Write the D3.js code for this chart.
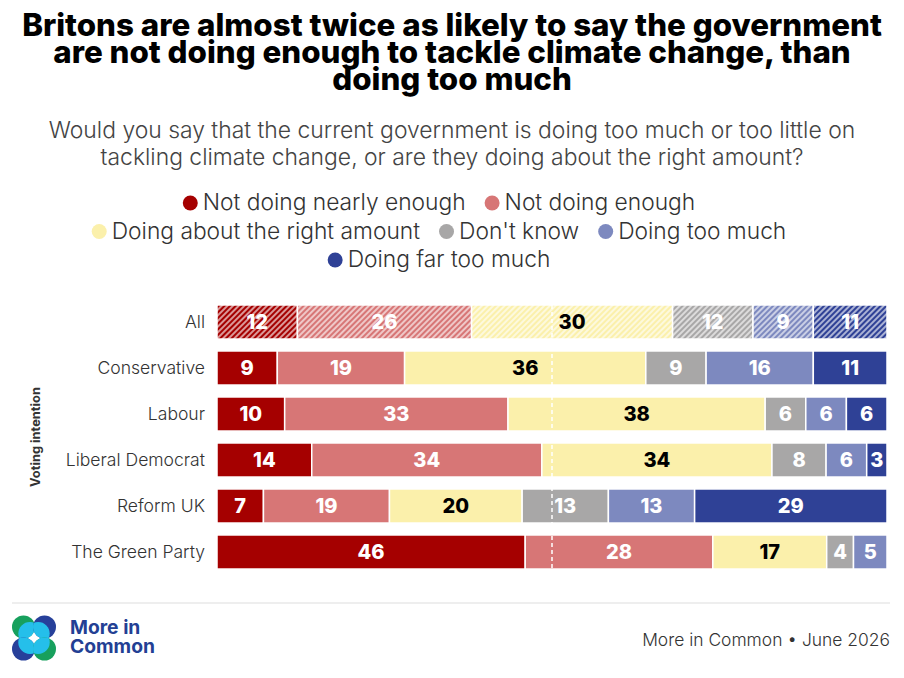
<!DOCTYPE html>
<html>
<head>
<meta charset="utf-8">
<script src="https://cdn.jsdelivr.net/npm/d3@7"></script>
<style>
  body { margin: 0; background: #fff; }
  svg { display: block; font-family: Inter, "Noto Sans", sans-serif; }
</style>
</head>
<body>
<div id="chart"></div>
<script>
'use strict';

// survey data, one array per answer, in group order
const groups = ['All', 'Conservative', 'Labour', 'Liberal Democrat', 'Reform UK', 'The Green Party'];
const categories = ['Not doing nearly enough', 'Not doing enough', 'Doing about the right amount',
                    "Don't know", 'Doing too much', 'Doing far too much'];
const notNearlyEnough = [12, 9, 10, 14, 7, 46];
const notEnough = [26, 19, 33, 34, 19, 28];
const aboutRight = [30, 36, 38, 34, 20, 17];
const dontKnow = [12, 9, 6, 8, 13, 4];
const tooMuch = [9, 16, 6, 6, 13, 5];
const farTooMuch = [11, 11, 6, 3, 29, 0];
const legendRows = [[0, 1], [2, 3, 4], [5]];

const colors = ['#a50000', '#d77676', '#fbf0ab', '#a8a7a7', '#7d89bf', '#2f4196'];

const width = 904,
      height = 678;

const svg = d3.select('#chart')
              .append('svg')
              .attr('width', width)
              .attr('height', height);

// font size that makes a string about as wide as in the reference
function fitSize(str, weight, target) {
    let t = svg.append('text').attr('font-size', 100).attr('font-weight', weight).text(str);
    let w = t.node().getComputedTextLength();
    t.remove();
    return 100 * target / w;
}

const seriesValues = [notNearlyEnough, notEnough, aboutRight, dontKnow, tooMuch, farTooMuch];
const table = groups.map(function(g, i) {
    let row = {group: g};
    categories.forEach(function(c, j) { row[c] = seriesValues[j][i]; });
    return row;
});

const stack = d3.stack().keys(categories).offset(d3.stackOffsetExpand);
const series = stack(table);

const x = d3.scaleLinear().domain([0, 1]).range([217, 887]);
const y = d3.scaleBand().domain(groups).range([299, 575]).paddingInner(0.26).paddingOuter(0.13);

// hatch patterns for the "All" row
const defs = svg.append('defs');
categories.forEach(function(c, j) {
    let p = defs.append('pattern')
                .attr('id', 'hatch-' + j)
                .attr('patternUnits', 'userSpaceOnUse')
                .attr('width', 4)
                .attr('height', 4)
                .attr('patternTransform', 'rotate(45)');
    p.append('rect').attr('width', 4).attr('height', 4).attr('fill', colors[j]);
    p.append('line')
     .attr('x1', 1).attr('x2', 1).attr('y1', 0).attr('y2', 4)
     .attr('stroke', '#fff')
     .attr('stroke-width', 1.4)
     .attr('stroke-opacity', 0.85);
});

// title
const title = ['Britons are almost twice as likely to say the government',
               'are not doing enough to tackle climate change, than',
               'doing too much'];
const titleSize = fitSize(title[0], 800, 860);
svg.append('g')
   .selectAll('text')
   .data(title)
   .join('text')
   .attr('x', width / 2)
   .attr('y', function(d, i) { return 36 + i * 27; })
   .attr('text-anchor', 'middle')
   .attr('font-size', titleSize)
   .attr('font-weight', 800)
   .attr('fill', '#000')
   .text(function(d) { return d; });

const subtitle = ['Would you say that the current government is doing too much or too little on',
                  'tackling climate change, or are they doing about the right amount?'];
const subSize = fitSize(subtitle[0], 300, 807);
svg.append('g')
   .selectAll('text')
   .data(subtitle)
   .join('text')
   .attr('x', width / 2)
   .attr('y', function(d, i) { return 138 + i * 27; })
   .attr('text-anchor', 'middle')
   .attr('font-size', subSize)
   .attr('font-weight', 300)
   .attr('fill', '#444')
   .text(function(d) { return d; });

// legend
const legendSize = fitSize(categories[0], 300, 263);
const legendCenter = 439;
const legend = svg.append('g').attr('class', 'legend');
legendRows.forEach(function(row, r) {
    let g = legend.append('g');
    let cursor = 0;
    row.forEach(function(j) {
        let item = g.append('g').attr('transform', 'translate(' + cursor + ',0)');
        item.append('circle').attr('cx', 7.5).attr('cy', -7).attr('r', 7.5).attr('fill', colors[j]);
        let t = item.append('text')
                    .attr('x', 20)
                    .attr('font-size', legendSize)
                    .attr('font-weight', 300)
                    .attr('fill', '#333')
                    .text(categories[j]);
        cursor += 20 + t.node().getComputedTextLength() + 19;
    });
    let total = cursor - 19;
    g.attr('transform', 'translate(' + (legendCenter - total / 2) + ',' + (210 + r * 28.5) + ')');
});

// bars
const bars = svg.append('g');
bars.selectAll('g')
    .data(series)
    .join('g')
    .each(function(s, j) {
        d3.select(this)
          .selectAll('rect')
          .data(s)
          .join('rect')
          .attr('x', function(d) { return x(d[0]); })
          .attr('y', function(d) { return y(d.data.group); })
          .attr('width', function(d) { return Math.max(0, x(d[1]) - x(d[0])); })
          .attr('height', y.bandwidth())
          .attr('fill', function(d) {
              return d.data.group === 'All' ? 'url(#hatch-' + j + ')' : colors[j];
          })
          .attr('stroke', '#fff')
          .attr('stroke-width', 1.5);
    });

// 50% marker
svg.append('line')
   .attr('x1', x(0.5)).attr('x2', x(0.5))
   .attr('y1', y(groups[0]))
   .attr('y2', y(groups[groups.length - 1]) + y.bandwidth())
   .attr('stroke', '#fff')
   .attr('stroke-width', 1.5)
   .attr('stroke-dasharray', '4,3');

// value labels
const labels = svg.append('g');
series.forEach(function(s, j) {
    labels.selectAll(null)
          .data(s.filter(function(d) { return d.data[s.key] > 0; }))
          .join('text')
          .attr('x', function(d) { return (x(d[0]) + x(d[1])) / 2; })
          .attr('y', function(d) { return y(d.data.group) + y.bandwidth() / 2 + 7; })
          .attr('text-anchor', 'middle')
          .attr('font-size', 20)
          .attr('font-weight', 800)
          .attr('fill', j === 2 ? '#000' : '#fff')
          .text(function(d) { return d.data[s.key]; });
});

// group labels
const groupSize = fitSize('The Green Party', 300, 134);
const axis = svg.append('g')
                .attr('transform', 'translate(205,0)')
                .call(d3.axisLeft(y).tickSize(0).tickPadding(0));
axis.select('.domain').remove();
axis.selectAll('text')
    .attr('font-size', groupSize)
    .attr('font-weight', 300)
    .attr('font-family', 'Inter, sans-serif')
    .attr('fill', '#333');

svg.append('text')
   .attr('transform', 'translate(40,' + ((y.range()[0] + y.range()[1]) / 2) + ') rotate(-90)')
   .attr('text-anchor', 'middle')
   .attr('font-size', fitSize('Voting intention', 700, 100))
   .attr('font-weight', 700)
   .attr('fill', '#333')
   .text('Voting intention');

// footer
svg.append('line')
   .attr('x1', 12).attr('x2', 890)
   .attr('y1', 603).attr('y2', 603)
   .attr('stroke', '#ddd');

const logo = svg.append('g').attr('transform', 'translate(34,638)');
const petals = [{cx: -10.5, cy: -11, c: '#17a05d'}, {cx: 10.5, cy: -11, c: '#27409a'},
                {cx: -10.5, cy: 11, c: '#27409a'}, {cx: 10.5, cy: 11, c: '#17a05d'}];
petals.forEach(function(p, i) {
    defs.append('clipPath').attr('id', 'petal-' + i)
        .append('circle').attr('cx', p.cx).attr('cy', p.cy).attr('r', 11.5);
    logo.append('circle').attr('cx', p.cx).attr('cy', p.cy).attr('r', 11.5).attr('fill', p.c);
    logo.append('circle')
        .attr('cx', p.cx * 0.4).attr('cy', p.cy * 0.4).attr('r', 11.5)
        .attr('fill', '#25bfea')
        .attr('clip-path', 'url(#petal-' + i + ')');
});

const logoSize = fitSize('Common', 700, 85);
svg.append('text')
   .attr('x', 70).attr('y', 634)
   .attr('font-size', logoSize).attr('font-weight', 700).attr('fill', '#233f94')
   .text('More in');
svg.append('text')
   .attr('x', 70).attr('y', 653)
   .attr('font-size', logoSize).attr('font-weight', 700).attr('fill', '#233f94')
   .text('Common');

svg.append('text')
   .attr('x', 890).attr('y', 646)
   .attr('text-anchor', 'end')
   .attr('font-size', fitSize('More in Common \u2022 June 2026', 300, 248))
   .attr('font-weight', 300)
   .attr('fill', '#333')
   .text('More in Common \u2022 June 2026');
</script>
</body>
</html>
